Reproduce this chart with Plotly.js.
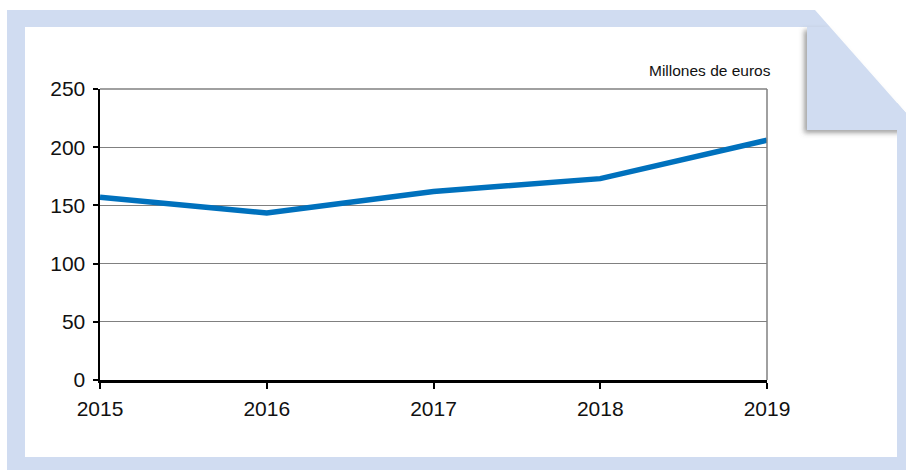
<!DOCTYPE html>
<html>
<head>
<meta charset="utf-8">
<script src="https://cdn.plot.ly/plotly-3.0.1.min.js"></script>
<style>
  html, body { margin: 0; padding: 0; background: #ffffff; }
  #wrap { position: relative; width: 906px; height: 471px; overflow: hidden; }
  #bg { position: absolute; left: 0; top: 0; }
  #chart { position: absolute; left: 0; top: 0; width: 906px; height: 471px; }
</style>
</head>
<body>
<div id="wrap">
  <svg id="bg" width="906" height="471" xmlns="http://www.w3.org/2000/svg">
    <defs>
      <filter id="sh" x="-20%" y="-20%" width="140%" height="160%">
        <feDropShadow dx="-3" dy="3" stdDeviation="2.5" flood-color="#555" flood-opacity="0.55"/>
      </filter>
    </defs>
    <polygon points="7,10 815,10 906,113 906,470 7,470" fill="#d0dcf1"/>
    <rect x="25" y="27" width="872" height="430" fill="#ffffff"/>
    <polygon points="807,27 830,27 906,113 906,130 807,130" fill="#d0dcf1" filter="url(#sh)"/>
    <rect x="897" y="126" width="9" height="344" fill="#d0dcf1"/>
  </svg>
  <div id="chart"></div>
</div>
<script>
const years = [2015, 2016, 2017, 2018, 2019];
const values = [157, 143.5, 162, 173, 206];
const yTicks = [0, 50, 100, 150, 200, 250];
const unitLabel = "Millones de euros";

const trace = {
  x: years,
  y: values,
  type: 'scatter',
  mode: 'lines',
  line: { color: '#0071bd', width: 5.5 },
  hoverinfo: 'skip',
  cliponaxis: false
};

const layout = {
  width: 906,
  height: 471,
  paper_bgcolor: 'rgba(0,0,0,0)',
  plot_bgcolor: 'rgba(0,0,0,0)',
  margin: { l: 100, r: 139, t: 89, b: 91, pad: 0 },
  showlegend: false,
  font: { family: 'Liberation Sans, Arial, sans-serif', color: '#111111', size: 21 },
  xaxis: {
    range: [2015, 2019],
    tickvals: years,
    ticktext: years.map(String),
    showgrid: false,
    zeroline: false,
    showline: true,
    linecolor: '#000000',
    linewidth: 2.5,
    ticks: 'outside',
    ticklen: 6,
    tickwidth: 2,
    tickcolor: '#000000',
    ticklabelstandoff: 2,
    fixedrange: true
  },
  yaxis: {
    range: [0, 250],
    tickvals: yTicks,
    ticktext: yTicks.map(String),
    showgrid: true,
    gridcolor: '#808080',
    gridwidth: 1.4,
    zeroline: false,
    showline: true,
    linecolor: '#000000',
    linewidth: 2.5,
    ticks: 'outside',
    ticklen: 5,
    tickwidth: 2,
    tickcolor: '#000000',
    ticklabelstandoff: 3,
    fixedrange: true
  },
  shapes: [
    { type: 'line', xref: 'paper', yref: 'paper', x0: 1, x1: 1, y0: 0, y1: 1,
      line: { color: '#808080', width: 1.5 } },
    { type: 'line', xref: 'paper', yref: 'paper', x0: 0, x1: 1, y0: 1, y1: 1,
      line: { color: '#808080', width: 1.5 } }
  ],
  annotations: [
    { text: unitLabel, xref: 'paper', yref: 'paper', x: 1, y: 1,
      xanchor: 'right', yanchor: 'bottom', xshift: 6, yshift: 8, showarrow: false,
      font: { family: 'Liberation Sans, Arial, sans-serif', size: 15.5, color: '#111111' } }
  ]
};

Plotly.newPlot('chart', [trace], layout, { displayModeBar: false, staticPlot: true });
</script>
</body>
</html>
